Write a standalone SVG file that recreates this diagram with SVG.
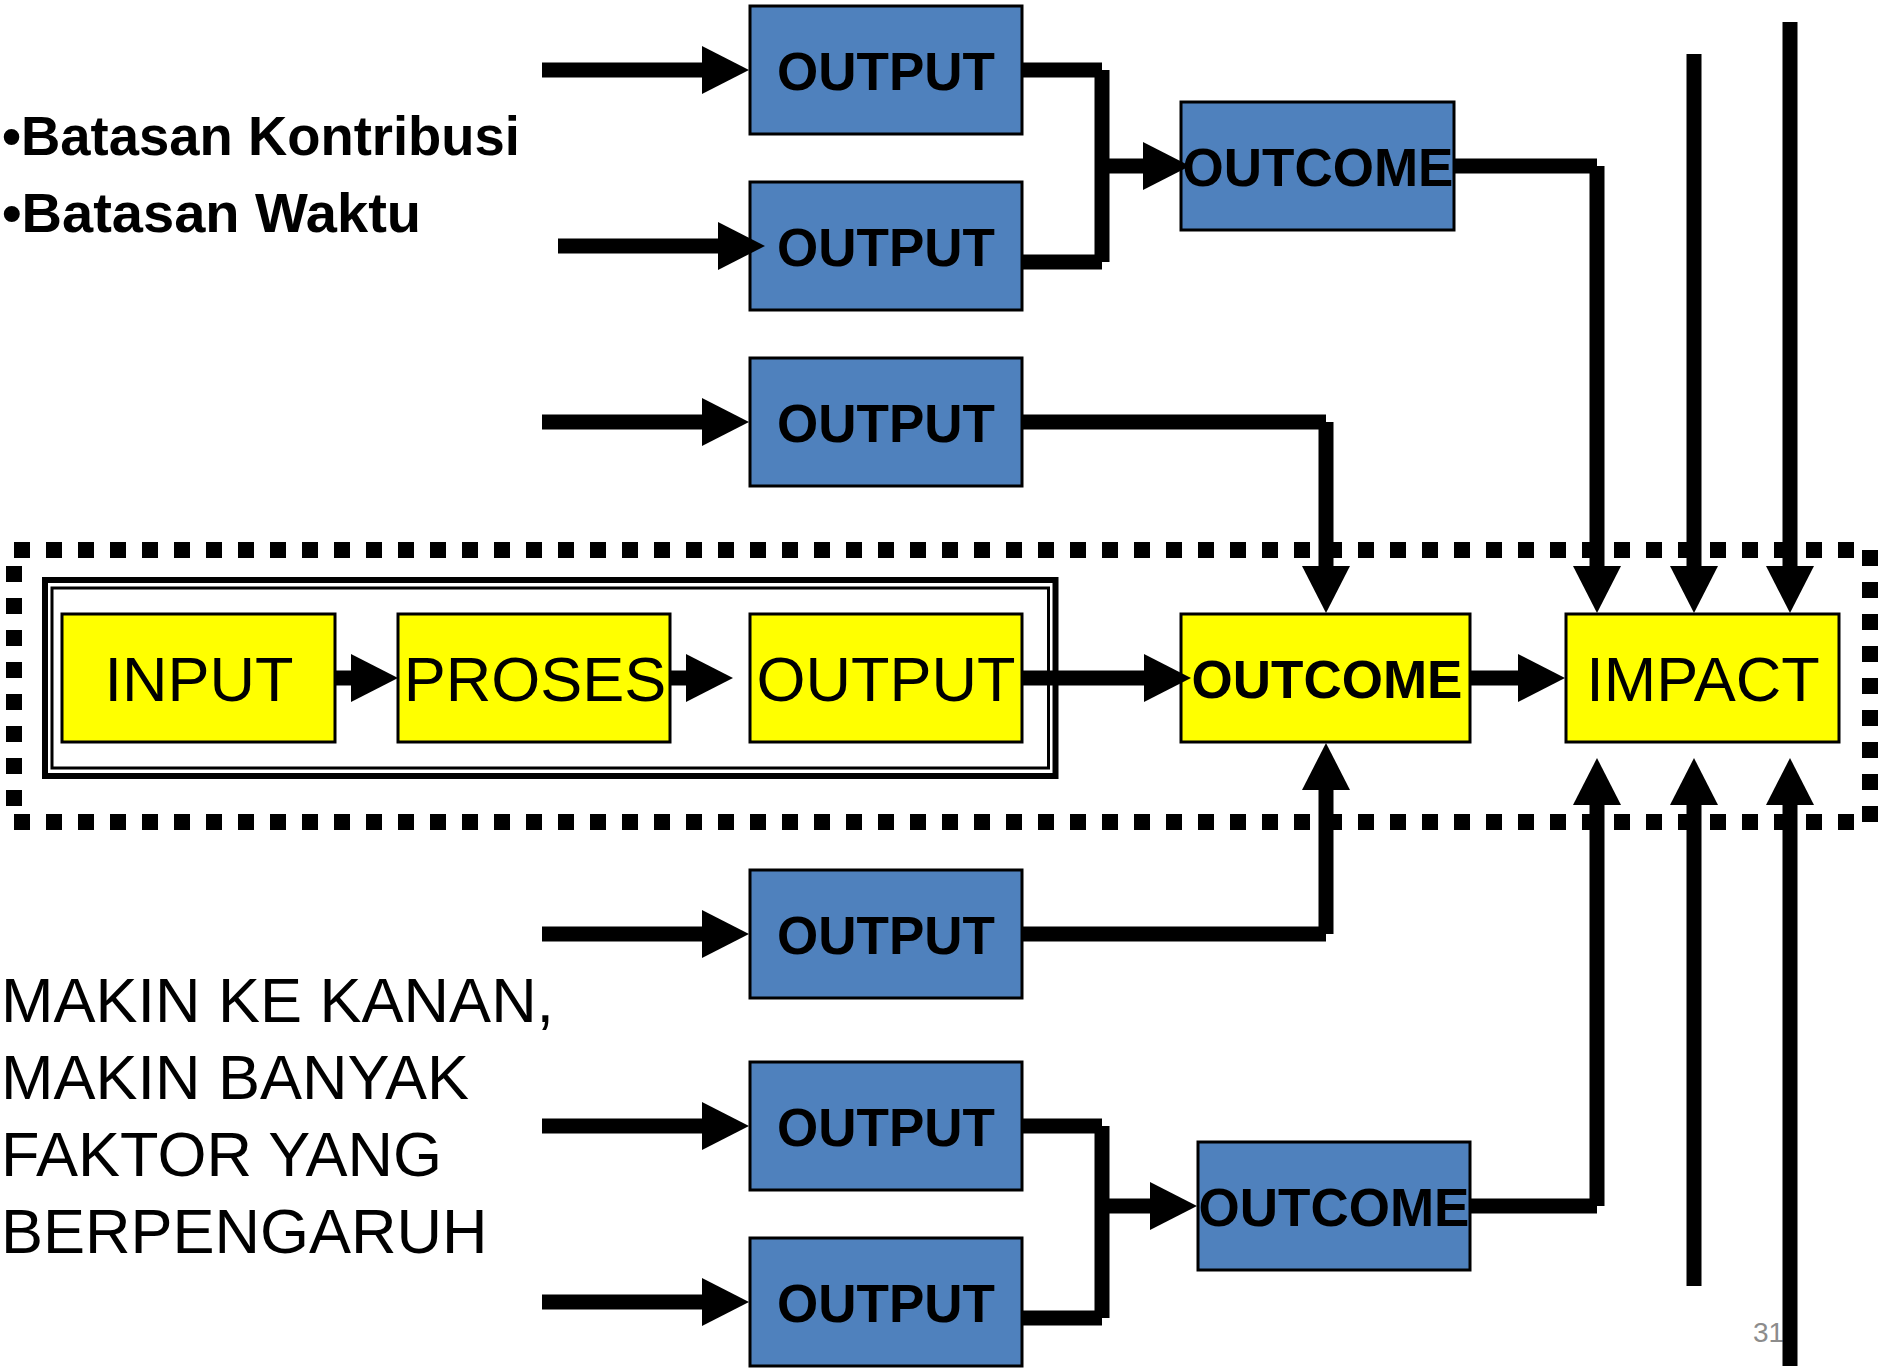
<svg xmlns="http://www.w3.org/2000/svg" width="1883" height="1369" viewBox="0 0 1883 1369">
<style>
  .bg { fill: #ffffff; }
  .blue { fill: #4F81BD; stroke: #000000; stroke-width: 3; }
  .yellow { fill: #FFFF00; stroke: #000000; stroke-width: 3; }
  .lb { font-family: "Liberation Sans", Arial, sans-serif; font-weight: bold; font-size: 53px; fill: #000; text-anchor: middle; }
  .lr { font-family: "Liberation Sans", Arial, sans-serif; font-size: 63px; fill: #000; text-anchor: middle; }
  .note { font-family: "Liberation Sans", Arial, sans-serif; font-size: 63px; fill: #000; }
  .bul { font-family: "Liberation Sans", Arial, sans-serif; font-weight: bold; font-size: 55px; fill: #000; }
  .pg { font-family: "Liberation Sans", Arial, sans-serif; font-size: 28px; fill: #8C8C8C; }
  .ln { fill: none; stroke: #000000; stroke-width: 15; stroke-linecap: butt; }
  .arr { fill: none; stroke: #000000; stroke-width: 15; stroke-linecap: butt; marker-end: url(#head); }
  .dash { fill: none; stroke: #000000; stroke-width: 16; stroke-dasharray: 16 16; }
</style>
<defs>
  <marker id="head" markerUnits="userSpaceOnUse" markerWidth="48" markerHeight="50" refX="0" refY="25" orient="auto" overflow="visible">
    <path d="M0,1 L47,25 L0,49 Z" fill="#000000"/>
  </marker>
</defs>
<rect class="bg" x="0" y="0" width="1883" height="1369"/>

<g id="notes">
  <text class="bul" x="2" y="155" textLength="518" lengthAdjust="spacingAndGlyphs">•Batasan Kontribusi</text>
  <text class="bul" x="2" y="232" textLength="419" lengthAdjust="spacingAndGlyphs">•Batasan Waktu</text>
  <text class="note" x="1" y="1022">MAKIN KE KANAN,</text>
  <text class="note" x="1" y="1099">MAKIN BANYAK</text>
  <text class="note" x="1" y="1176">FAKTOR YANG</text>
  <text class="note" x="1" y="1253">BERPENGARUH</text>
  <text class="pg" x="1753" y="1342">31</text>
</g>

<g id="frame-dotted">
  <line class="dash" x1="14" y1="550" x2="1854" y2="550"/>
  <line class="dash" x1="14" y1="822" x2="1854" y2="822"/>
  <line class="dash" x1="14" y1="566" x2="14" y2="806"/>
  <line class="dash" x1="1870" y1="550" x2="1870" y2="822"/>
</g>

<g id="frame-double">
  <rect x="45" y="580" width="1010.5" height="196" fill="none" stroke="#000" stroke-width="6"/>
  <rect x="52" y="588" width="996.5" height="180" fill="none" stroke="#000" stroke-width="3"/>
</g>

<g id="out1"><rect class="blue" x="750" y="6" width="272" height="128"/><text class="lb" x="886" y="90">OUTPUT</text></g>
<g id="out2"><rect class="blue" x="750" y="182" width="272" height="128"/><text class="lb" x="886" y="266">OUTPUT</text></g>
<g id="out3"><rect class="blue" x="750" y="358" width="272" height="128"/><text class="lb" x="886" y="442">OUTPUT</text></g>
<g id="out4"><rect class="blue" x="750" y="870" width="272" height="128"/><text class="lb" x="886" y="954">OUTPUT</text></g>
<g id="out5"><rect class="blue" x="750" y="1062" width="272" height="128"/><text class="lb" x="886" y="1146">OUTPUT</text></g>
<g id="out6"><rect class="blue" x="750" y="1238" width="272" height="128"/><text class="lb" x="886" y="1322">OUTPUT</text></g>

<g id="outcome-top"><rect class="blue" x="1181" y="102" width="273" height="128"/><text class="lb" x="1318" y="186">OUTCOME</text></g>
<g id="outcome-bottom"><rect class="blue" x="1198" y="1142" width="272" height="128"/><text class="lb" x="1334" y="1226">OUTCOME</text></g>

<g id="input"><rect class="yellow" x="62" y="614" width="273" height="128"/><text class="lr" x="199" y="701">INPUT</text></g>
<g id="proses"><rect class="yellow" x="398" y="614" width="272" height="128"/><text class="lr" x="535" y="701">PROSES</text></g>
<g id="output-main"><rect class="yellow" x="750" y="614" width="272" height="128"/><text class="lr" x="886" y="701">OUTPUT</text></g>
<g id="outcome-main"><rect class="yellow" x="1181" y="614" width="289" height="128"/><text class="lb" x="1327" y="698">OUTCOME</text></g>
<g id="impact"><rect class="yellow" x="1566" y="614" width="273" height="128"/><text class="lr" x="1703" y="701">IMPACT</text></g>

<g id="connectors">
  <line class="arr" x1="542" y1="70" x2="702" y2="70"/>
  <line class="arr" x1="558" y1="246" x2="718" y2="246"/>
  <line class="arr" x1="542" y1="422" x2="702" y2="422"/>
  <line class="arr" x1="542" y1="934" x2="702" y2="934"/>
  <line class="arr" x1="542" y1="1126" x2="702" y2="1126"/>
  <line class="arr" x1="542" y1="1302" x2="702" y2="1302"/>
  <line class="ln" x1="1022" y1="70" x2="1102" y2="70"/>
  <line class="ln" x1="1022" y1="262" x2="1102" y2="262"/>
  <line class="ln" x1="1102" y1="70" x2="1102" y2="262"/>
  <line class="arr" x1="1102" y1="166" x2="1143" y2="166"/>
  <line class="ln" x1="1022" y1="422" x2="1326" y2="422"/>
  <line class="arr" x1="1326" y1="422" x2="1326" y2="566"/>
  <line class="ln" x1="1022" y1="934" x2="1326" y2="934"/>
  <line class="arr" x1="1326" y1="934" x2="1326" y2="790"/>
  <line class="ln" x1="1022" y1="1126" x2="1102" y2="1126"/>
  <line class="ln" x1="1022" y1="1318" x2="1102" y2="1318"/>
  <line class="ln" x1="1102" y1="1126" x2="1102" y2="1318"/>
  <line class="arr" x1="1102" y1="1206" x2="1150" y2="1206"/>
  <line class="ln" x1="1454" y1="166" x2="1597" y2="166"/>
  <line class="arr" x1="1597" y1="166" x2="1597" y2="566"/>
  <line class="ln" x1="1470" y1="1206" x2="1597" y2="1206"/>
  <line class="arr" x1="1597" y1="1206" x2="1597" y2="805"/>
  <line class="arr" x1="1694" y1="54" x2="1694" y2="566"/>
  <line class="arr" x1="1790" y1="22" x2="1790" y2="566"/>
  <line class="arr" x1="1694" y1="1286" x2="1694" y2="805"/>
  <line class="arr" x1="1790" y1="1366" x2="1790" y2="805"/>
  <line class="arr" x1="335" y1="678" x2="351" y2="678"/>
  <line class="arr" x1="670" y1="678" x2="686" y2="678"/>
  <line class="arr" x1="1022" y1="678" x2="1144" y2="678"/>
  <line class="arr" x1="1470" y1="678" x2="1518" y2="678"/>
</g>
</svg>
